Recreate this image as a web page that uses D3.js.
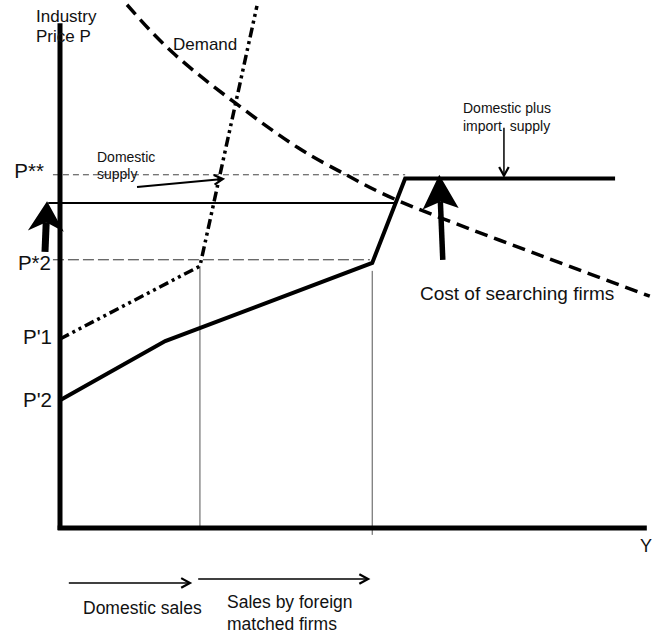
<!DOCTYPE html>
<html>
<head>
<meta charset="utf-8">
<script src="https://cdn.jsdelivr.net/npm/d3@7"></script>
<style>
  html, body { margin: 0; padding: 0; background: #fff; }
  svg { display: block; }
  text { font-family: "Liberation Sans", Arial, sans-serif; fill: #111; }
</style>
</head>
<body>
<svg id="chart" width="652" height="637"></svg>
<script>
// ---- data (price / quantity units, 0-100) ----
const demandCurve = [[11.4,99.1],[19.2,90.0],[29.8,80.5],[40.5,72.0],[48.5,67.0],[57.3,62.1],[74.8,54.5],[100.3,43.9]];
const domesticSupply = [[0,35.8],[23.8,49.6],[33.5,98.9]];
const totalSupply = [[0,24.2],[17.9,35.4],[53.1,50.2],[58.7,66.2],[94.4,66.2]];
const priceLabels = ["P**","P*2","P'1","P'2"];
const priceValues = [66.9, 50.8, 35.8, 24.2];
const searchCostPrice = 61.55;
const qDomestic = 23.8;
const qMatched = 53.1;
const thinArrows = [
  {from:[13.1,64.6], to:[27.7,66.1], w:2},
  {from:[75.5,75.8], to:[75.5,66.7], w:1.5},
  {from:[1.5,-10.4], to:[22.1,-10.4], w:1.5},
  {from:[23.5,-9.66], to:[52.4,-9.66], w:1.5}
];
const thickArrows = [
  {from:[-2.55,52.3], to:[-2.2,61.9], shaft:7, len:30, half:18, notch:9},
  {from:[65.1,50.8], to:[64.5,66.9], shaft:5.5, len:34, half:18, notch:7}
];

// ---- scales ----
const svg = d3.select("#chart");
const x = d3.scaleLinear().domain([0,100]).range([60,648]);
const y = d3.scaleLinear().domain([0,100]).range([528,0]);
const line = d3.line().x(d => x(d[0])).y(d => y(d[1]));

// reference lines
svg.append("line").attr("x1", x(-1.2)).attr("x2", x(58.7)).attr("y1", y(priceValues[0])).attr("y2", y(priceValues[0]))
  .attr("stroke", "#444").attr("stroke-width", 1).attr("stroke-dasharray", "6,4");
svg.append("line").attr("x1", x(-1.2)).attr("x2", x(52.7)).attr("y1", y(priceValues[1])).attr("y2", y(priceValues[1]))
  .attr("stroke", "#333").attr("stroke-width", 1).attr("stroke-dasharray", "11,4");
svg.append("line").attr("x1", x(-2)).attr("x2", x(57.0)).attr("y1", y(searchCostPrice)).attr("y2", y(searchCostPrice))
  .attr("stroke", "#000").attr("stroke-width", 2);
svg.append("line").attr("x1", x(qDomestic)).attr("x2", x(qDomestic)).attr("y1", y(49.6)).attr("y2", y(0))
  .attr("stroke", "#555").attr("stroke-width", 1);
svg.append("line").attr("x1", x(qMatched)).attr("x2", x(qMatched)).attr("y1", y(48.7)).attr("y2", y(-1.3))
  .attr("stroke", "#555").attr("stroke-width", 1);

// curves
svg.append("path").datum(demandCurve).attr("d", line.curve(d3.curveNatural))
  .attr("fill", "none").attr("stroke", "#000").attr("stroke-width", 3.5).attr("stroke-dasharray", "13,7");
line.curve(d3.curveLinear);
svg.append("path").datum(domesticSupply).attr("d", line)
  .attr("fill", "none").attr("stroke", "#000").attr("stroke-width", 3.5).attr("stroke-dasharray", "10,4,3,4,3,4");
svg.append("path").datum(totalSupply).attr("d", line)
  .attr("fill", "none").attr("stroke", "#000").attr("stroke-width", 4).attr("stroke-linejoin", "miter");

// axes
svg.append("line").attr("x1", x(0)).attr("x2", x(0)).attr("y1", y(95.6)).attr("y2", y(-0.4))
  .attr("stroke", "#000").attr("stroke-width", 5);
svg.append("line").attr("x1", x(-0.4)).attr("x2", x(99.8)).attr("y1", y(0)).attr("y2", y(0))
  .attr("stroke", "#000").attr("stroke-width", 5);

// price tick labels
const labelDx = [-8, -1, 0, 0];
const labelDy = [3, 10, 5, 6];
const yAxis = d3.axisLeft(y).tickValues(priceValues).tickFormat((d,i) => priceLabels[i]).tickSize(0).tickPadding(8);
const ga = svg.append("g").attr("transform", `translate(${x(0)},0)`).call(yAxis);
ga.select(".domain").remove();
ga.selectAll("text").attr("font-size", 20.5).attr("font-family", "Liberation Sans, Arial, sans-serif").attr("fill", "#111")
  .attr("dy", (d,i) => labelDy[i]).attr("dx", (d,i) => labelDx[i]);

// thin arrows
thinArrows.forEach(a => {
  const x1 = x(a.from[0]), y1 = y(a.from[1]), x2 = x(a.to[0]), y2 = y(a.to[1]);
  const ang = Math.atan2(y2 - y1, x2 - x1);
  svg.append("line").attr("x1", x1).attr("y1", y1).attr("x2", x2).attr("y2", y2)
    .attr("stroke", "#000").attr("stroke-width", a.w);
  const L = 10, sp = 0.5;
  const pts = [[x2 - L*Math.cos(ang - sp), y2 - L*Math.sin(ang - sp)], [x2, y2], [x2 - L*Math.cos(ang + sp), y2 - L*Math.sin(ang + sp)]];
  svg.append("path").attr("d", d3.line()(pts)).attr("fill", "none").attr("stroke", "#000").attr("stroke-width", 2.2);
});

// thick arrows
thickArrows.forEach(a => {
  const x1 = x(a.from[0]), y1 = y(a.from[1]), x2 = x(a.to[0]), y2 = y(a.to[1]);
  const ang = Math.atan2(y2 - y1, x2 - x1);
  const ux = Math.cos(ang), uy = Math.sin(ang), nx = -uy, ny = ux;
  const notchX = x2 - ux*(a.len - a.notch), notchY = y2 - uy*(a.len - a.notch);
  svg.append("line").attr("x1", x1).attr("y1", y1).attr("x2", notchX).attr("y2", notchY)
    .attr("stroke", "#000").attr("stroke-width", a.shaft);
  const bx = x2 - ux*a.len, by = y2 - uy*a.len;
  const head = [[x2, y2], [bx + nx*a.half, by + ny*a.half], [notchX, notchY], [bx - nx*a.half, by - ny*a.half]];
  svg.append("path").attr("d", d3.line()(head) + "Z").attr("fill", "#000");
});

// text labels
function label(txt, px, py, size) {
  svg.append("text").attr("x", px).attr("y", py).attr("font-size", size).style("white-space", "pre").text(txt);
}
label("Industry", 36, 22, 17);
label("Price P", 36, 42, 17);
label("Demand", 173, 50, 17);
label("Domestic", 97, 162, 14);
label("supply", 97, 179, 14);
label("Domestic plus", 463, 113, 14);
label("import  supply", 463, 131, 14);
label("Cost of searching firms", 420, 300, 19);
label("Y", 640, 552, 18);
label("Domestic sales", 83, 614, 17.5);
label("Sales by foreign", 227, 608, 17.5);
label("matched firms", 227, 630, 17.5);
</script>
</body>
</html>
